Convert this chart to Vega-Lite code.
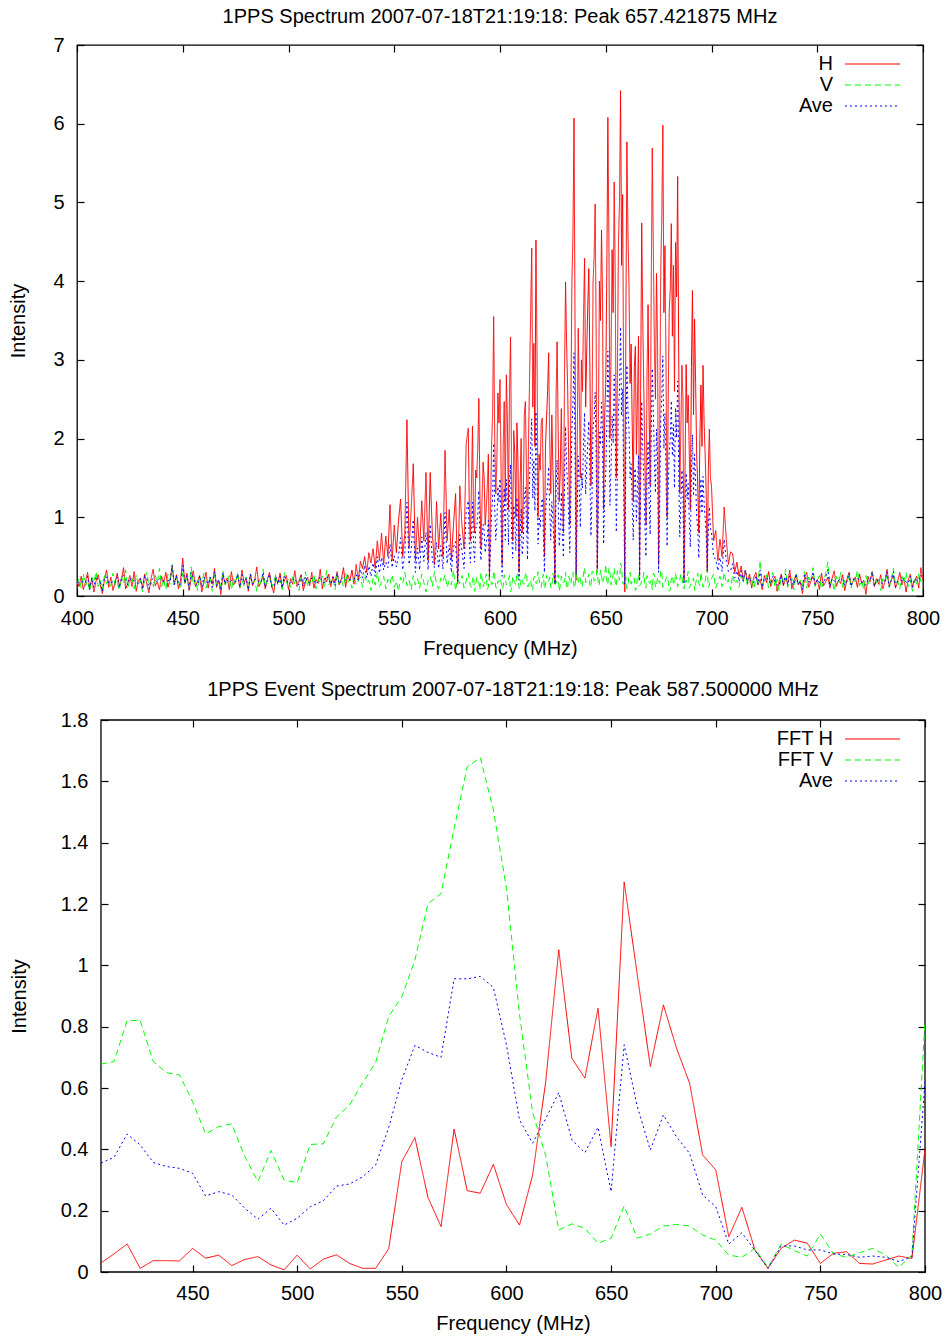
{
"$schema":"https://vega.github.io/schema/vega-lite/v6.json",
"background":"white",
"padding":{"left":8,"top":6,"right":5,"bottom":2},
"config":{
"font":"Liberation Sans",
"view":{"stroke":"black","strokeWidth":1.3},
"axis":{"domain":false,"grid":false,"labelFont":"Liberation Sans","labelFontSize":20,"labelColor":"black","titleFont":"Liberation Sans","titleFontSize":20,"titleFontWeight":"normal","titleColor":"black","tickColor":"black","tickSize":-7,"tickWidth":1.2,"labelFlush":false,"labelOverlap":false},
"legend":{"orient":"none","legendY":8,"title":null,"padding":0,"labelFont":"Liberation Sans","labelFontSize":20,"labelColor":"black","symbolType":"M-2.75,0H2.75","symbolSize":400,"symbolStrokeWidth":1.2,"symbolOffset":90,"labelAlign":"right","labelOffset":-50.5,"rowPadding":-2},
"title":{"font":"Liberation Sans","fontSize":20,"fontWeight":"normal","color":"black","anchor":"middle","frame":"group"}
},
"datasets":{
"spec":[
{"f":400,"H":0.2,"V":0.15,"Ave":0.18},{"f":401,"H":0.12,"V":0.22,"Ave":0.17},{"f":402,"H":0.25,"V":0.1,"Ave":0.18},{"f":403,"H":0.08,"V":0.28,"Ave":0.18},{"f":404,"H":0.18,"V":0.13,"Ave":0.16},{"f":405,"H":0.3,"V":0.19,"Ave":0.25},{"f":406,"H":0.1,"V":0.06,"Ave":0.08},{"f":407,"H":0.22,"V":0.24,"Ave":0.23},{"f":408,"H":0.05,"V":0.17,"Ave":0.11},{"f":409,"H":0.19,"V":0.31,"Ave":0.25},
{"f":410,"H":0.27,"V":0.12,"Ave":0.2},{"f":411,"H":0.14,"V":0.2,"Ave":0.17},{"f":412,"H":0.03,"V":0.08,"Ave":0.06},{"f":413,"H":0.21,"V":0.26,"Ave":0.24},{"f":414,"H":0.33,"V":0.15,"Ave":0.24},{"f":415,"H":0.11,"V":0.21,"Ave":0.16},{"f":416,"H":0.24,"V":0.1,"Ave":0.17},{"f":417,"H":0.07,"V":0.29,"Ave":0.18},{"f":418,"H":0.17,"V":0.14,"Ave":0.16},{"f":419,"H":0.29,"V":0.18,"Ave":0.24},
{"f":420,"H":0.13,"V":0.07,"Ave":0.1},{"f":421,"H":0.2,"V":0.25,"Ave":0.23},{"f":422,"H":0.36,"V":0.16,"Ave":0.26},{"f":423,"H":0.09,"V":0.33,"Ave":0.21},{"f":424,"H":0.16,"V":0.11,"Ave":0.14},{"f":425,"H":0.26,"V":0.19,"Ave":0.23},{"f":426,"H":0.12,"V":0.23,"Ave":0.18},{"f":427,"H":0.31,"V":0.09,"Ave":0.2},{"f":428,"H":0.06,"V":0.27,"Ave":0.17},{"f":429,"H":0.19,"V":0.13,"Ave":0.16},
{"f":430,"H":0.23,"V":0.2,"Ave":0.22},{"f":431,"H":0.1,"V":0.05,"Ave":0.08},{"f":432,"H":0.28,"V":0.22,"Ave":0.25},{"f":433,"H":0.15,"V":0.3,"Ave":0.23},{"f":434,"H":0.04,"V":0.14,"Ave":0.09},{"f":435,"H":0.22,"V":0.18,"Ave":0.2},{"f":436,"H":0.34,"V":0.1,"Ave":0.22},{"f":437,"H":0.13,"V":0.26,"Ave":0.2},{"f":438,"H":0.18,"V":0.17,"Ave":0.18},{"f":439,"H":0.08,"V":0.35,"Ave":0.22},
{"f":440,"H":0.25,"V":0.12,"Ave":0.19},{"f":441,"H":0.17,"V":0.21,"Ave":0.19},{"f":442,"H":0.3,"V":0.08,"Ave":0.19},{"f":443,"H":0.11,"V":0.28,"Ave":0.2},{"f":444,"H":0.21,"V":0.15,"Ave":0.18},{"f":445,"H":0.38,"V":0.4,"Ave":0.39},{"f":446,"H":0.14,"V":0.13,"Ave":0.14},{"f":447,"H":0.27,"V":0.24,"Ave":0.26},{"f":448,"H":0.09,"V":0.19,"Ave":0.14},{"f":449,"H":0.2,"V":0.09,"Ave":0.15},
{"f":450,"H":0.48,"V":0.3,"Ave":0.39},{"f":451,"H":0.16,"V":0.16,"Ave":0.16},{"f":452,"H":0.29,"V":0.22,"Ave":0.26},{"f":453,"H":0.07,"V":0.11,"Ave":0.09},{"f":454,"H":0.22,"V":0.37,"Ave":0.3},{"f":455,"H":0.32,"V":0.14,"Ave":0.23},{"f":456,"H":0.12,"V":0.2,"Ave":0.16},{"f":457,"H":0.19,"V":0.07,"Ave":0.13},{"f":458,"H":0.26,"V":0.25,"Ave":0.26},{"f":459,"H":0.05,"V":0.17,"Ave":0.11},
{"f":460,"H":0.18,"V":0.29,"Ave":0.24},{"f":461,"H":0.3,"V":0.1,"Ave":0.2},{"f":462,"H":0.1,"V":0.19,"Ave":0.15},{"f":463,"H":0.24,"V":0.23,"Ave":0.24},{"f":464,"H":0.15,"V":0.06,"Ave":0.11},{"f":465,"H":0.35,"V":0.27,"Ave":0.31},{"f":466,"H":0.11,"V":0.15,"Ave":0.13},{"f":467,"H":0.2,"V":0.21,"Ave":0.21},{"f":468,"H":0.02,"V":0.12,"Ave":0.07},{"f":469,"H":0.27,"V":0.32,"Ave":0.3},
{"f":470,"H":0.16,"V":0.14,"Ave":0.15},{"f":471,"H":0.23,"V":0.18,"Ave":0.21},{"f":472,"H":0.08,"V":0.26,"Ave":0.17},{"f":473,"H":0.31,"V":0.08,"Ave":0.2},{"f":474,"H":0.14,"V":0.22,"Ave":0.18},{"f":475,"H":0.19,"V":0.16,"Ave":0.18},{"f":476,"H":0.26,"V":0.3,"Ave":0.28},{"f":477,"H":0.1,"V":0.11,"Ave":0.11},{"f":478,"H":0.33,"V":0.2,"Ave":0.27},{"f":479,"H":0.17,"V":0.13,"Ave":0.15},
{"f":480,"H":0.22,"V":0.24,"Ave":0.23},{"f":481,"H":0.06,"V":0.09,"Ave":0.08},{"f":482,"H":0.28,"V":0.28,"Ave":0.28},{"f":483,"H":0.13,"V":0.17,"Ave":0.15},{"f":484,"H":0.2,"V":0.21,"Ave":0.21},{"f":485,"H":0.37,"V":0.06,"Ave":0.22},{"f":486,"H":0.12,"V":0.23,"Ave":0.18},{"f":487,"H":0.18,"V":0.15,"Ave":0.17},{"f":488,"H":0.25,"V":0.34,"Ave":0.3},{"f":489,"H":0.09,"V":0.12,"Ave":0.11},
{"f":490,"H":0.21,"V":0.19,"Ave":0.2},{"f":491,"H":0.3,"V":0.25,"Ave":0.28},{"f":492,"H":0.14,"V":0.1,"Ave":0.12},{"f":493,"H":0.04,"V":0.18,"Ave":0.11},{"f":494,"H":0.23,"V":0.27,"Ave":0.25},{"f":495,"H":0.17,"V":0.13,"Ave":0.15},{"f":496,"H":0.29,"V":0.2,"Ave":0.25},{"f":497,"H":0.11,"V":0.08,"Ave":0.1},{"f":498,"H":0.19,"V":0.3,"Ave":0.25},{"f":499,"H":0.26,"V":0.16,"Ave":0.21},
{"f":500,"H":0.08,"V":0.22,"Ave":0.15},{"f":501,"H":0.22,"V":0.11,"Ave":0.17},{"f":502,"H":0.15,"V":0.26,"Ave":0.21},{"f":503,"H":0.32,"V":0.14,"Ave":0.23},{"f":504,"H":0.12,"V":0.19,"Ave":0.16},{"f":505,"H":0.2,"V":0.07,"Ave":0.14},{"f":506,"H":0.27,"V":0.24,"Ave":0.26},{"f":507,"H":0.07,"V":0.17,"Ave":0.12},{"f":508,"H":0.18,"V":0.31,"Ave":0.25},{"f":509,"H":0.24,"V":0.12,"Ave":0.18},
{"f":510,"H":0.13,"V":0.2,"Ave":0.17},{"f":511,"H":0.3,"V":0.15,"Ave":0.23},{"f":512,"H":0.1,"V":0.28,"Ave":0.19},{"f":513,"H":0.21,"V":0.09,"Ave":0.15},{"f":514,"H":0.16,"V":0.21,"Ave":0.19},{"f":515,"H":0.34,"V":0.16,"Ave":0.25},{"f":516,"H":0.09,"V":0.25,"Ave":0.17},{"f":517,"H":0.23,"V":0.1,"Ave":0.17},{"f":518,"H":0.18,"V":0.33,"Ave":0.26},{"f":519,"H":0.28,"V":0.14,"Ave":0.21},
{"f":520,"H":0.12,"V":0.18,"Ave":0.15},{"f":521,"H":0.25,"V":0.23,"Ave":0.24},{"f":522,"H":0.17,"V":0.08,"Ave":0.13},{"f":523,"H":0.31,"V":0.27,"Ave":0.29},{"f":524,"H":0.14,"V":0.15,"Ave":0.15},{"f":525,"H":0.22,"V":0.2,"Ave":0.21},{"f":526,"H":0.36,"V":0.12,"Ave":0.24},{"f":527,"H":0.11,"V":0.29,"Ave":0.2},{"f":528,"H":0.27,"V":0.17,"Ave":0.22},{"f":529,"H":0.19,"V":0.22,"Ave":0.21},
{"f":530,"H":0.33,"V":0.1,"Ave":0.22},{"f":531,"H":0.15,"V":0.26,"Ave":0.21},{"f":532,"H":0.4,"V":0.14,"Ave":0.27},{"f":533,"H":0.2,"V":0.19,"Ave":0.2},{"f":534,"H":0.44,"V":0.24,"Ave":0.34},{"f":535,"H":0.35,"V":0.11,"Ave":0.23},{"f":536,"H":0.5,"V":0.28,"Ave":0.39},{"f":537,"H":0.3,"V":0.16,"Ave":0.23},{"f":538,"H":0.55,"V":0.2,"Ave":0.38},{"f":539,"H":0.42,"V":0.07,"Ave":0.25},
{"f":540,"H":0.6,"V":0.23,"Ave":0.42},{"f":541,"H":0.35,"V":0.14,"Ave":0.25},{"f":542,"H":0.7,"V":0.3,"Ave":0.5},{"f":543,"H":0.45,"V":0.12,"Ave":0.29},{"f":544,"H":0.8,"V":0.18,"Ave":0.49},{"f":545,"H":0.4,"V":0.25,"Ave":0.33},{"f":546,"H":0.76,"V":0.09,"Ave":0.43},{"f":547,"H":0.5,"V":0.21,"Ave":0.36},{"f":548,"H":1.16,"V":0.15,"Ave":0.66},{"f":549,"H":0.45,"V":0.27,"Ave":0.36},
{"f":550,"H":0.9,"V":0.11,"Ave":0.51},{"f":551,"H":0.55,"V":0.19,"Ave":0.37},{"f":552,"H":0.95,"V":0.06,"Ave":0.51},{"f":553,"H":1.23,"V":0.24,"Ave":0.74},{"f":554,"H":0.5,"V":0.16,"Ave":0.33},{"f":555,"H":0.8,"V":0.3,"Ave":0.55},{"f":556,"H":2.24,"V":0.13,"Ave":1.19},{"f":557,"H":0.6,"V":0.2,"Ave":0.4},{"f":558,"H":1.1,"V":0.08,"Ave":0.59},{"f":559,"H":1.68,"V":0.26,"Ave":0.97},
{"f":560,"H":0.45,"V":0.14,"Ave":0.3},{"f":561,"H":1.0,"V":0.22,"Ave":0.61},{"f":562,"H":0.55,"V":0.1,"Ave":0.33},{"f":563,"H":1.21,"V":0.28,"Ave":0.75},{"f":564,"H":0.7,"V":0.17,"Ave":0.44},{"f":565,"H":1.57,"V":0.05,"Ave":0.81},{"f":566,"H":0.45,"V":0.2,"Ave":0.33},{"f":567,"H":1.57,"V":0.25,"Ave":0.91},{"f":568,"H":0.8,"V":0.12,"Ave":0.46},{"f":569,"H":0.4,"V":0.31,"Ave":0.36},
{"f":570,"H":1.2,"V":0.15,"Ave":0.68},{"f":571,"H":0.6,"V":0.09,"Ave":0.35},{"f":572,"H":1.05,"V":0.23,"Ave":0.64},{"f":573,"H":0.5,"V":0.18,"Ave":0.34},{"f":574,"H":1.85,"V":0.27,"Ave":1.06},{"f":575,"H":0.7,"V":0.11,"Ave":0.41},{"f":576,"H":1.1,"V":0.2,"Ave":0.65},{"f":577,"H":0.45,"V":0.14,"Ave":0.3},{"f":578,"H":0.9,"V":0.33,"Ave":0.62},{"f":579,"H":1.3,"V":0.07,"Ave":0.69},
{"f":580,"H":0.15,"V":0.22,"Ave":0.19},{"f":581,"H":1.4,"V":0.16,"Ave":0.78},{"f":582,"H":0.9,"V":0.26,"Ave":0.58},{"f":583,"H":0.6,"V":0.1,"Ave":0.35},{"f":584,"H":1.93,"V":0.19,"Ave":1.06},{"f":585,"H":2.13,"V":0.29,"Ave":1.21},{"f":586,"H":0.7,"V":0.13,"Ave":0.42},{"f":587,"H":2.16,"V":0.21,"Ave":1.19},{"f":588,"H":0.8,"V":0.06,"Ave":0.43},{"f":589,"H":1.5,"V":0.24,"Ave":0.87},
{"f":590,"H":2.51,"V":0.17,"Ave":1.34},{"f":591,"H":0.6,"V":0.3,"Ave":0.45},{"f":592,"H":1.7,"V":0.12,"Ave":0.91},{"f":593,"H":0.9,"V":0.2,"Ave":0.55},{"f":594,"H":1.4,"V":0.08,"Ave":0.74},{"f":595,"H":0.2,"V":0.26,"Ave":0.23},{"f":596,"H":1.9,"V":0.15,"Ave":1.03},{"f":597,"H":3.55,"V":0.32,"Ave":1.94},{"f":598,"H":1.3,"V":0.11,"Ave":0.71},{"f":599,"H":2.58,"V":0.19,"Ave":1.39},
{"f":600,"H":2.75,"V":0.23,"Ave":1.49},{"f":601,"H":0.4,"V":0.09,"Ave":0.25},{"f":602,"H":2.47,"V":0.27,"Ave":1.37},{"f":603,"H":2.81,"V":0.14,"Ave":1.48},{"f":604,"H":1.1,"V":0.2,"Ave":0.65},{"f":605,"H":3.29,"V":0.05,"Ave":1.67},{"f":606,"H":0.7,"V":0.25,"Ave":0.48},{"f":607,"H":1.8,"V":0.17,"Ave":0.99},{"f":608,"H":2.2,"V":0.3,"Ave":1.25},{"f":609,"H":0.3,"V":0.1,"Ave":0.2},
{"f":610,"H":2.0,"V":0.22,"Ave":1.11},{"f":611,"H":1.2,"V":0.15,"Ave":0.68},{"f":612,"H":2.47,"V":0.28,"Ave":1.38},{"f":613,"H":0.8,"V":0.12,"Ave":0.46},{"f":614,"H":2.79,"V":0.19,"Ave":1.49},{"f":615,"H":4.42,"V":0.07,"Ave":2.25},{"f":616,"H":3.21,"V":0.24,"Ave":1.73},{"f":617,"H":4.52,"V":0.16,"Ave":2.34},{"f":618,"H":1.0,"V":0.31,"Ave":0.66},{"f":619,"H":1.6,"V":0.13,"Ave":0.87},
{"f":620,"H":2.26,"V":0.21,"Ave":1.24},{"f":621,"H":0.5,"V":0.09,"Ave":0.3},{"f":622,"H":2.25,"V":0.26,"Ave":1.26},{"f":623,"H":3.09,"V":0.18,"Ave":1.64},{"f":624,"H":1.3,"V":0.11,"Ave":0.71},{"f":625,"H":1.64,"V":0.29,"Ave":0.97},{"f":626,"H":0.15,"V":0.15,"Ave":0.15},{"f":627,"H":3.23,"V":0.22,"Ave":1.73},{"f":628,"H":1.2,"V":0.06,"Ave":0.63},{"f":629,"H":2.38,"V":0.25,"Ave":1.32},
{"f":630,"H":0.8,"V":0.17,"Ave":0.49},{"f":631,"H":3.99,"V":0.3,"Ave":2.15},{"f":632,"H":2.62,"V":0.12,"Ave":1.37},{"f":633,"H":0.9,"V":0.2,"Ave":0.55},{"f":634,"H":3.99,"V":0.27,"Ave":2.13},{"f":635,"H":6.07,"V":0.1,"Ave":3.09},{"f":636,"H":0.2,"V":0.33,"Ave":0.27},{"f":637,"H":3.4,"V":0.16,"Ave":1.78},{"f":638,"H":1.5,"V":0.23,"Ave":0.87},{"f":639,"H":2.6,"V":0.13,"Ave":1.37},
{"f":640,"H":4.29,"V":0.36,"Ave":2.33},{"f":641,"H":3.1,"V":0.19,"Ave":1.65},{"f":642,"H":4.16,"V":0.28,"Ave":2.22},{"f":643,"H":1.4,"V":0.11,"Ave":0.76},{"f":644,"H":3.99,"V":0.31,"Ave":2.15},{"f":645,"H":4.98,"V":0.2,"Ave":2.59},{"f":646,"H":0.3,"V":0.38,"Ave":0.34},{"f":647,"H":4.0,"V":0.15,"Ave":2.08},{"f":648,"H":4.65,"V":0.26,"Ave":2.46},{"f":649,"H":1.1,"V":0.22,"Ave":0.66},
{"f":650,"H":2.7,"V":0.4,"Ave":1.55},{"f":651,"H":6.08,"V":0.14,"Ave":3.11},{"f":652,"H":2.0,"V":0.3,"Ave":1.15},{"f":653,"H":4.4,"V":0.18,"Ave":2.29},{"f":654,"H":5.26,"V":0.35,"Ave":2.81},{"f":655,"H":1.5,"V":0.12,"Ave":0.81},{"f":656,"H":4.49,"V":0.27,"Ave":2.38},{"f":657,"H":6.42,"V":0.42,"Ave":3.42},{"f":658,"H":5.1,"V":0.16,"Ave":2.63},{"f":659,"H":0.05,"V":0.24,"Ave":0.15},
{"f":660,"H":5.77,"V":0.09,"Ave":2.93},{"f":661,"H":3.93,"V":0.28,"Ave":2.11},{"f":662,"H":3.2,"V":0.15,"Ave":1.68},{"f":663,"H":1.2,"V":0.21,"Ave":0.71},{"f":664,"H":3.17,"V":0.07,"Ave":1.62},{"f":665,"H":2.52,"V":0.26,"Ave":1.39},{"f":666,"H":0.25,"V":0.13,"Ave":0.19},{"f":667,"H":4.74,"V":0.19,"Ave":2.47},{"f":668,"H":2.62,"V":0.3,"Ave":1.46},{"f":669,"H":0.9,"V":0.1,"Ave":0.5},
{"f":670,"H":3.7,"V":0.23,"Ave":1.97},{"f":671,"H":1.4,"V":0.16,"Ave":0.78},{"f":672,"H":5.69,"V":0.08,"Ave":2.89},{"f":673,"H":3.17,"V":0.27,"Ave":1.72},{"f":674,"H":4.1,"V":0.14,"Ave":2.12},{"f":675,"H":0.4,"V":0.2,"Ave":0.3},{"f":676,"H":4.14,"V":0.33,"Ave":2.24},{"f":677,"H":5.98,"V":0.11,"Ave":3.05},{"f":678,"H":4.45,"V":0.18,"Ave":2.32},{"f":679,"H":1.0,"V":0.25,"Ave":0.63},
{"f":680,"H":3.6,"V":0.06,"Ave":1.83},{"f":681,"H":4.73,"V":0.22,"Ave":2.48},{"f":682,"H":4.2,"V":0.15,"Ave":2.18},{"f":683,"H":4.49,"V":0.29,"Ave":2.39},{"f":684,"H":5.33,"V":0.12,"Ave":2.73},{"f":685,"H":1.3,"V":0.2,"Ave":0.75},{"f":686,"H":2.93,"V":0.26,"Ave":1.6},{"f":687,"H":0.2,"V":0.09,"Ave":0.15},{"f":688,"H":2.94,"V":0.17,"Ave":1.56},{"f":689,"H":2.55,"V":0.31,"Ave":1.43},
{"f":690,"H":1.1,"V":0.13,"Ave":0.62},{"f":691,"H":3.88,"V":0.21,"Ave":2.05},{"f":692,"H":3.52,"V":0.07,"Ave":1.8},{"f":693,"H":1.78,"V":0.24,"Ave":1.01},{"f":694,"H":0.8,"V":0.16,"Ave":0.48},{"f":695,"H":2.68,"V":0.3,"Ave":1.49},{"f":696,"H":2.93,"V":0.11,"Ave":1.52},{"f":697,"H":1.79,"V":0.19,"Ave":0.99},{"f":698,"H":0.3,"V":0.34,"Ave":0.32},{"f":699,"H":2.12,"V":0.14,"Ave":1.13},
{"f":700,"H":1.4,"V":0.22,"Ave":0.81},{"f":701,"H":0.7,"V":0.28,"Ave":0.49},{"f":702,"H":0.83,"V":0.1,"Ave":0.47},{"f":703,"H":0.45,"V":0.18,"Ave":0.32},{"f":704,"H":0.72,"V":0.25,"Ave":0.49},{"f":705,"H":0.5,"V":0.12,"Ave":0.31},{"f":706,"H":1.13,"V":0.3,"Ave":0.72},{"f":707,"H":0.72,"V":0.16,"Ave":0.44},{"f":708,"H":0.4,"V":0.21,"Ave":0.31},{"f":709,"H":0.56,"V":0.08,"Ave":0.32},
{"f":710,"H":0.54,"V":0.27,"Ave":0.41},{"f":711,"H":0.3,"V":0.15,"Ave":0.23},{"f":712,"H":0.43,"V":0.2,"Ave":0.32},{"f":713,"H":0.25,"V":0.11,"Ave":0.18},{"f":714,"H":0.38,"V":0.26,"Ave":0.32},{"f":715,"H":0.2,"V":0.17,"Ave":0.19},{"f":716,"H":0.33,"V":0.32,"Ave":0.33},{"f":717,"H":0.18,"V":0.13,"Ave":0.16},{"f":718,"H":0.28,"V":0.19,"Ave":0.24},{"f":719,"H":0.1,"V":0.24,"Ave":0.17},
{"f":720,"H":0.24,"V":0.09,"Ave":0.17},{"f":721,"H":0.3,"V":0.22,"Ave":0.26},{"f":722,"H":0.14,"V":0.16,"Ave":0.15},{"f":723,"H":0.21,"V":0.45,"Ave":0.33},{"f":724,"H":0.08,"V":0.14,"Ave":0.11},{"f":725,"H":0.26,"V":0.2,"Ave":0.23},{"f":726,"H":0.17,"V":0.27,"Ave":0.22},{"f":727,"H":0.31,"V":0.1,"Ave":0.21},{"f":728,"H":0.12,"V":0.18,"Ave":0.15},{"f":729,"H":0.2,"V":0.3,"Ave":0.25},
{"f":730,"H":0.25,"V":0.12,"Ave":0.19},{"f":731,"H":0.06,"V":0.21,"Ave":0.14},{"f":732,"H":0.19,"V":0.07,"Ave":0.13},{"f":733,"H":0.28,"V":0.26,"Ave":0.27},{"f":734,"H":0.13,"V":0.15,"Ave":0.14},{"f":735,"H":0.22,"V":0.34,"Ave":0.28},{"f":736,"H":0.16,"V":0.11,"Ave":0.14},{"f":737,"H":0.33,"V":0.19,"Ave":0.26},{"f":738,"H":0.09,"V":0.23,"Ave":0.16},{"f":739,"H":0.2,"V":0.08,"Ave":0.14},
{"f":740,"H":0.27,"V":0.28,"Ave":0.28},{"f":741,"H":0.14,"V":0.16,"Ave":0.15},{"f":742,"H":0.18,"V":0.2,"Ave":0.19},{"f":743,"H":0.03,"V":0.13,"Ave":0.08},{"f":744,"H":0.23,"V":0.31,"Ave":0.27},{"f":745,"H":0.3,"V":0.1,"Ave":0.2},{"f":746,"H":0.11,"V":0.24,"Ave":0.18},{"f":747,"H":0.19,"V":0.17,"Ave":0.18},{"f":748,"H":0.25,"V":0.36,"Ave":0.31},{"f":749,"H":0.15,"V":0.12,"Ave":0.14},
{"f":750,"H":0.21,"V":0.2,"Ave":0.21},{"f":751,"H":0.08,"V":0.26,"Ave":0.17},{"f":752,"H":0.29,"V":0.09,"Ave":0.19},{"f":753,"H":0.13,"V":0.18,"Ave":0.16},{"f":754,"H":0.18,"V":0.29,"Ave":0.24},{"f":755,"H":0.24,"V":0.43,"Ave":0.34},{"f":756,"H":0.1,"V":0.14,"Ave":0.12},{"f":757,"H":0.22,"V":0.22,"Ave":0.22},{"f":758,"H":0.32,"V":0.06,"Ave":0.19},{"f":759,"H":0.12,"V":0.25,"Ave":0.19},
{"f":760,"H":0.2,"V":0.17,"Ave":0.19},{"f":761,"H":0.16,"V":0.3,"Ave":0.23},{"f":762,"H":0.27,"V":0.11,"Ave":0.19},{"f":763,"H":0.07,"V":0.2,"Ave":0.14},{"f":764,"H":0.21,"V":0.15,"Ave":0.18},{"f":765,"H":0.3,"V":0.27,"Ave":0.29},{"f":766,"H":0.14,"V":0.1,"Ave":0.12},{"f":767,"H":0.19,"V":0.23,"Ave":0.21},{"f":768,"H":0.24,"V":0.18,"Ave":0.21},{"f":769,"H":0.11,"V":0.33,"Ave":0.22},
{"f":770,"H":0.28,"V":0.13,"Ave":0.21},{"f":771,"H":0.16,"V":0.19,"Ave":0.18},{"f":772,"H":0.2,"V":0.08,"Ave":0.14},{"f":773,"H":0.02,"V":0.26,"Ave":0.14},{"f":774,"H":0.25,"V":0.15,"Ave":0.2},{"f":775,"H":0.18,"V":0.21,"Ave":0.2},{"f":776,"H":0.31,"V":0.3,"Ave":0.31},{"f":777,"H":0.12,"V":0.12,"Ave":0.12},{"f":778,"H":0.22,"V":0.18,"Ave":0.2},{"f":779,"H":0.15,"V":0.24,"Ave":0.2},
{"f":780,"H":0.27,"V":0.07,"Ave":0.17},{"f":781,"H":0.09,"V":0.22,"Ave":0.16},{"f":782,"H":0.19,"V":0.16,"Ave":0.18},{"f":783,"H":0.34,"V":0.28,"Ave":0.31},{"f":784,"H":0.13,"V":0.11,"Ave":0.12},{"f":785,"H":0.2,"V":0.2,"Ave":0.2},{"f":786,"H":0.26,"V":0.35,"Ave":0.31},{"f":787,"H":0.1,"V":0.14,"Ave":0.12},{"f":788,"H":0.18,"V":0.19,"Ave":0.19},{"f":789,"H":0.3,"V":0.09,"Ave":0.2},
{"f":790,"H":0.14,"V":0.25,"Ave":0.2},{"f":791,"H":0.23,"V":0.17,"Ave":0.2},{"f":792,"H":0.05,"V":0.3,"Ave":0.18},{"f":793,"H":0.2,"V":0.12,"Ave":0.16},{"f":794,"H":0.28,"V":0.21,"Ave":0.25},{"f":795,"H":0.12,"V":0.06,"Ave":0.09},{"f":796,"H":0.19,"V":0.24,"Ave":0.22},{"f":797,"H":0.25,"V":0.15,"Ave":0.2},{"f":798,"H":0.1,"V":0.29,"Ave":0.2},{"f":799,"H":0.36,"V":0.18,"Ave":0.27},
{"f":800,"H":0.2,"V":0.22,"Ave":0.21},
{"f":585.5,"H":1.1,"V":0.2,"Ave":0.65},{"f":586.5,"H":1.4,"V":0.11,"Ave":0.76},{"f":587.5,"H":1.0,"V":0.25,"Ave":0.63},{"f":588.5,"H":1.6,"V":0.14,"Ave":0.87},{"f":589.5,"H":1.9,"V":0.19,"Ave":1.05},{"f":590.5,"H":1.3,"V":0.08,"Ave":0.69},{"f":591.5,"H":1.2,"V":0.23,"Ave":0.72},{"f":592.5,"H":1.5,"V":0.16,"Ave":0.83},{"f":593.5,"H":1.1,"V":0.28,"Ave":0.69},{"f":594.5,"H":1.8,"V":0.12,"Ave":0.96},
{"f":595.5,"H":1.0,"V":0.2,"Ave":0.6},{"f":596.5,"H":2.3,"V":0.15,"Ave":1.23},{"f":597.5,"H":2.0,"V":0.26,"Ave":1.13},{"f":598.5,"H":1.7,"V":0.1,"Ave":0.9},{"f":599.5,"H":2.2,"V":0.18,"Ave":1.19},
{"f":600.5,"H":1.6,"V":0.18,"Ave":0.89},{"f":601.5,"H":1.9,"V":0.12,"Ave":1.01},{"f":602.5,"H":1.2,"V":0.22,"Ave":0.71},{"f":603.5,"H":2.2,"V":0.15,"Ave":1.18},{"f":604.5,"H":2.6,"V":0.26,"Ave":1.43},{"f":605.5,"H":1.5,"V":0.1,"Ave":0.8},{"f":606.5,"H":2.1,"V":0.2,"Ave":1.15},{"f":607.5,"H":1.0,"V":0.14,"Ave":0.57},{"f":608.5,"H":1.7,"V":0.27,"Ave":0.99},{"f":609.5,"H":1.4,"V":0.09,"Ave":0.75},
{"f":610.5,"H":0.8,"V":0.23,"Ave":0.52},{"f":611.5,"H":2.3,"V":0.16,"Ave":1.23},{"f":612.5,"H":1.6,"V":0.3,"Ave":0.95},{"f":613.5,"H":2.0,"V":0.12,"Ave":1.06},{"f":614.5,"H":3.6,"V":0.2,"Ave":1.9},{"f":615.5,"H":2.4,"V":0.08,"Ave":1.24},{"f":616.5,"H":1.9,"V":0.25,"Ave":1.08},{"f":617.5,"H":3.1,"V":0.17,"Ave":1.64},{"f":618.5,"H":1.8,"V":0.21,"Ave":1.01},{"f":619.5,"H":2.2,"V":0.11,"Ave":1.16},
{"f":620.5,"H":1.3,"V":0.28,"Ave":0.79},{"f":621.5,"H":1.9,"V":0.14,"Ave":1.02},{"f":622.5,"H":2.6,"V":0.19,"Ave":1.4},{"f":623.5,"H":2.0,"V":0.24,"Ave":1.12},{"f":624.5,"H":2.3,"V":0.1,"Ave":1.2},{"f":625.5,"H":1.1,"V":0.2,"Ave":0.65},{"f":626.5,"H":2.5,"V":0.16,"Ave":1.33},{"f":627.5,"H":2.1,"V":0.27,"Ave":1.19},{"f":628.5,"H":1.6,"V":0.13,"Ave":0.87},{"f":629.5,"H":1.3,"V":0.22,"Ave":0.77},
{"f":630.5,"H":2.8,"V":0.18,"Ave":1.49},{"f":631.5,"H":3.2,"V":0.09,"Ave":1.65},{"f":632.5,"H":1.7,"V":0.25,"Ave":0.98},{"f":633.5,"H":2.4,"V":0.15,"Ave":1.28},{"f":634.5,"H":4.6,"V":0.3,"Ave":2.45},{"f":635.5,"H":3.3,"V":0.12,"Ave":1.71},{"f":636.5,"H":1.9,"V":0.2,"Ave":1.05},{"f":637.5,"H":2.5,"V":0.26,"Ave":1.38},{"f":638.5,"H":3.0,"V":0.11,"Ave":1.56},{"f":639.5,"H":3.6,"V":0.29,"Ave":1.95},
{"f":640.5,"H":2.4,"V":0.17,"Ave":1.29},{"f":641.5,"H":3.7,"V":0.22,"Ave":1.96},{"f":642.5,"H":2.9,"V":0.14,"Ave":1.52},{"f":643.5,"H":2.2,"V":0.31,"Ave":1.26},{"f":644.5,"H":4.3,"V":0.19,"Ave":2.25},{"f":645.5,"H":3.2,"V":0.24,"Ave":1.72},{"f":646.5,"H":2.0,"V":0.13,"Ave":1.07},{"f":647.5,"H":3.5,"V":0.33,"Ave":1.92},{"f":648.5,"H":3.8,"V":0.16,"Ave":1.98},{"f":649.5,"H":2.3,"V":0.27,"Ave":1.29},
{"f":650.5,"H":4.1,"V":0.2,"Ave":2.15},{"f":651.5,"H":4.5,"V":0.36,"Ave":2.43},{"f":652.5,"H":3.1,"V":0.14,"Ave":1.62},{"f":653.5,"H":3.6,"V":0.28,"Ave":1.94},{"f":654.5,"H":4.0,"V":0.18,"Ave":2.09},{"f":655.5,"H":2.8,"V":0.32,"Ave":1.56},{"f":656.5,"H":5.0,"V":0.2,"Ave":2.6},{"f":657.5,"H":4.2,"V":0.37,"Ave":2.29},{"f":658.5,"H":2.4,"V":0.15,"Ave":1.28},{"f":659.5,"H":3.4,"V":0.25,"Ave":1.83},
{"f":660.5,"H":4.6,"V":0.12,"Ave":2.36},{"f":661.5,"H":2.7,"V":0.3,"Ave":1.5},{"f":662.5,"H":2.2,"V":0.18,"Ave":1.19},{"f":663.5,"H":2.9,"V":0.23,"Ave":1.57},{"f":664.5,"H":1.8,"V":0.1,"Ave":0.95},{"f":665.5,"H":3.3,"V":0.27,"Ave":1.79},{"f":666.5,"H":2.6,"V":0.15,"Ave":1.38},{"f":667.5,"H":3.5,"V":0.21,"Ave":1.86},{"f":668.5,"H":1.7,"V":0.12,"Ave":0.91},{"f":669.5,"H":2.8,"V":0.26,"Ave":1.53},
{"f":670.5,"H":2.3,"V":0.17,"Ave":1.24},{"f":671.5,"H":3.9,"V":0.2,"Ave":2.05},{"f":672.5,"H":4.4,"V":0.29,"Ave":2.35},{"f":673.5,"H":2.5,"V":0.11,"Ave":1.31},{"f":674.5,"H":3.2,"V":0.24,"Ave":1.72},{"f":675.5,"H":2.0,"V":0.16,"Ave":1.08},{"f":676.5,"H":4.8,"V":0.3,"Ave":2.55},{"f":677.5,"H":3.6,"V":0.13,"Ave":1.87},{"f":678.5,"H":2.9,"V":0.22,"Ave":1.56},{"f":679.5,"H":2.4,"V":0.19,"Ave":1.3},
{"f":680.5,"H":3.9,"V":0.08,"Ave":1.99},{"f":681.5,"H":3.3,"V":0.26,"Ave":1.78},{"f":682.5,"H":2.6,"V":0.14,"Ave":1.37},{"f":683.5,"H":3.8,"V":0.21,"Ave":2.01},{"f":684.5,"H":3.0,"V":0.17,"Ave":1.59},{"f":685.5,"H":2.1,"V":0.28,"Ave":1.19},{"f":686.5,"H":2.5,"V":0.12,"Ave":1.31},{"f":687.5,"H":1.6,"V":0.2,"Ave":0.9},{"f":688.5,"H":2.2,"V":0.25,"Ave":1.23},{"f":689.5,"H":1.8,"V":0.1,"Ave":0.95},
{"f":690.5,"H":2.9,"V":0.18,"Ave":1.54},{"f":691.5,"H":2.3,"V":0.23,"Ave":1.27},{"f":692.5,"H":2.7,"V":0.15,"Ave":1.43},{"f":693.5,"H":1.4,"V":0.29,"Ave":0.85},{"f":694.5,"H":2.0,"V":0.13,"Ave":1.07},{"f":695.5,"H":1.9,"V":0.2,"Ave":1.05},{"f":696.5,"H":2.2,"V":0.16,"Ave":1.18},{"f":697.5,"H":1.3,"V":0.27,"Ave":0.79},{"f":698.5,"H":1.6,"V":0.11,"Ave":0.86},{"f":699.5,"H":1.5,"V":0.22,"Ave":0.86}
],
"event":[
{"f":406.25,"H":0.03,"V":0.678,"Ave":0.355},{"f":412.5,"H":0.059,"V":0.686,"Ave":0.374},{"f":418.75,"H":0.091,"V":0.82,"Ave":0.45},{"f":425,"H":0.012,"V":0.82,"Ave":0.414},{"f":431.25,"H":0.037,"V":0.686,"Ave":0.357},{"f":437.5,"H":0.037,"V":0.65,"Ave":0.344},{"f":443.75,"H":0.036,"V":0.643,"Ave":0.338},{"f":450,"H":0.077,"V":0.556,"Ave":0.322},
{"f":456.25,"H":0.045,"V":0.45,"Ave":0.248},{"f":462.5,"H":0.055,"V":0.474,"Ave":0.262},{"f":468.75,"H":0.021,"V":0.483,"Ave":0.251},{"f":475,"H":0.041,"V":0.376,"Ave":0.208},{"f":481.25,"H":0.05,"V":0.295,"Ave":0.172},{"f":487.5,"H":0.023,"V":0.396,"Ave":0.208},{"f":493.75,"H":0.007,"V":0.3,"Ave":0.153},{"f":500,"H":0.055,"V":0.291,"Ave":0.175},
{"f":506.25,"H":0.01,"V":0.416,"Ave":0.213},{"f":512.5,"H":0.042,"V":0.418,"Ave":0.232},{"f":518.75,"H":0.056,"V":0.505,"Ave":0.28},{"f":525,"H":0.028,"V":0.544,"Ave":0.287},{"f":531.25,"H":0.012,"V":0.616,"Ave":0.31},{"f":537.5,"H":0.012,"V":0.683,"Ave":0.349},{"f":543.75,"H":0.076,"V":0.833,"Ave":0.471},{"f":550,"H":0.36,"V":0.897,"Ave":0.627},
{"f":556.25,"H":0.438,"V":1.017,"Ave":0.739},{"f":562.5,"H":0.243,"V":1.201,"Ave":0.716},{"f":568.75,"H":0.148,"V":1.234,"Ave":0.7},{"f":575,"H":0.466,"V":1.446,"Ave":0.956},{"f":581.25,"H":0.265,"V":1.647,"Ave":0.956},{"f":587.5,"H":0.257,"V":1.677,"Ave":0.964},{"f":593.75,"H":0.351,"V":1.507,"Ave":0.928},{"f":600,"H":0.22,"V":1.251,"Ave":0.741},
{"f":606.25,"H":0.153,"V":0.84,"Ave":0.496},{"f":612.5,"H":0.316,"V":0.52,"Ave":0.42},{"f":618.75,"H":0.62,"V":0.38,"Ave":0.5},{"f":625,"H":1.051,"V":0.137,"Ave":0.585},{"f":631.25,"H":0.697,"V":0.157,"Ave":0.431},{"f":637.5,"H":0.632,"V":0.142,"Ave":0.389},{"f":643.75,"H":0.86,"V":0.094,"Ave":0.472},{"f":650,"H":0.409,"V":0.11,"Ave":0.262},
{"f":656.25,"H":1.272,"V":0.215,"Ave":0.741},{"f":662.5,"H":0.97,"V":0.11,"Ave":0.54},{"f":668.75,"H":0.67,"V":0.124,"Ave":0.398},{"f":675,"H":0.871,"V":0.15,"Ave":0.512},{"f":681.25,"H":0.73,"V":0.155,"Ave":0.441},{"f":687.5,"H":0.616,"V":0.15,"Ave":0.387},{"f":693.75,"H":0.382,"V":0.121,"Ave":0.251},{"f":700,"H":0.333,"V":0.104,"Ave":0.213},
{"f":706.25,"H":0.115,"V":0.055,"Ave":0.091},{"f":712.5,"H":0.211,"V":0.048,"Ave":0.128},{"f":718.75,"H":0.072,"V":0.077,"Ave":0.07},{"f":725,"H":0.012,"V":0.015,"Ave":0.012},{"f":731.25,"H":0.077,"V":0.091,"Ave":0.085},{"f":737.5,"H":0.104,"V":0.07,"Ave":0.085},{"f":743.75,"H":0.094,"V":0.052,"Ave":0.072},{"f":750,"H":0.028,"V":0.124,"Ave":0.072},
{"f":756.25,"H":0.061,"V":0.059,"Ave":0.059},{"f":762.5,"H":0.066,"V":0.048,"Ave":0.057},{"f":768.75,"H":0.028,"V":0.063,"Ave":0.048},{"f":775,"H":0.026,"V":0.077,"Ave":0.052},{"f":781.25,"H":0.039,"V":0.055,"Ave":0.048},{"f":787.5,"H":0.052,"V":0.015,"Ave":0.034},{"f":793.75,"H":0.044,"V":0.055,"Ave":0.05},{"f":800,"H":0.4,"V":0.82,"Ave":0.62}
]
},
"vconcat":[
{
"width":846,"height":551,
"title":{"text":"1PPS Spectrum 2007-07-18T21:19:18: Peak 657.421875 MHz","offset":8},
"data":{"name":"spec"},
"transform":[{"fold":["H","V","Ave"],"as":["series","value"]}],
"encoding":{
"color":{"field":"series","type":"nominal","scale":{"domain":["H","V","Ave"],"range":["#ff0000","#00ff00","#0000ff"]},"legend":{"legendX":694.5}},
"strokeDash":{"field":"series","type":"nominal","scale":{"domain":["H","V","Ave"],"range":[[1,0],[6,4],[2,3]]},"legend":{"legendX":694.5}}
},
"layer":[
{"transform":[{"filter":"datum.series === 'H'"}],"mark":{"type":"line","strokeWidth":1,"clip":true},
"encoding":{
"x":{"field":"f","type":"quantitative","scale":{"domain":[400,800],"nice":false,"zero":false},"axis":{"values":[400,450,500,550,600,650,700,750,800],"title":"Frequency (MHz)","labelPadding":19,"titlePadding":10}},
"y":{"field":"value","type":"quantitative","scale":{"domain":[0,7],"nice":false,"zero":true},"axis":{"values":[0,1,2,3,4,5,6,7],"title":"Intensity","labelPadding":20,"titlePadding":24}}}},
{"transform":[{"filter":"datum.series === 'V'"}],"mark":{"type":"line","strokeWidth":1,"clip":true},
"encoding":{
"x":{"field":"f","type":"quantitative","axis":null},
"y":{"field":"value","type":"quantitative","axis":null}}},
{"transform":[{"filter":"datum.series === 'Ave'"}],"mark":{"type":"line","strokeWidth":1,"clip":true},
"encoding":{
"x":{"field":"f","type":"quantitative","axis":{"orient":"top","values":[400,450,500,550,600,650,700,750,800],"labels":false,"title":null}},
"y":{"field":"value","type":"quantitative","axis":{"orient":"right","values":[0,1,2,3,4,5,6,7],"labels":false,"title":null}}}}
],
"resolve":{"axis":{"x":"independent","y":"independent"}}
},
{
"width":848,"height":552,
"view":{"stroke":null},
"title":{"text":"1PPS Event Spectrum 2007-07-18T21:19:18:  Peak 587.500000 MHz","offset":10,"dx":12},
"data":{"name":"event"},
"transform":[{"fold":["H","V","Ave"],"as":["series","value"]}],
"layer":[
{"transform":[{"aggregate":[{"op":"min","field":"f","as":"f0"},{"op":"max","field":"f","as":"f1"}]}],
"mark":{"type":"rect","fill":"transparent","stroke":"black","strokeWidth":1.3},
"encoding":{
"x":{"field":"f0","type":"quantitative","axis":null},"x2":{"field":"f1"},
"y":{"datum":0,"type":"quantitative","axis":null},"y2":{"datum":1.8}}},
{"transform":[{"filter":"datum.series === 'H'"}],"mark":{"type":"line","strokeWidth":1,"clip":true},
"encoding":{
"x":{"field":"f","type":"quantitative","scale":{"domain":[394.79,800],"nice":false,"zero":false},"axis":{"values":[450,500,550,600,650,700,750,800],"title":"Frequency (MHz)","labelPadding":18,"titlePadding":10,"titleX":436}},
"y":{"field":"value","type":"quantitative","scale":{"domain":[0,1.8],"nice":false,"zero":true},"axis":{"values":[0,0.2,0.4,0.6,0.8,1,1.2,1.4,1.6,1.8],"format":"~g","title":"Intensity","labelPadding":20,"titlePadding":31,"offset":-24}},
"color":{"field":"series","type":"nominal","scale":{"domain":["H","V","Ave"],"range":["#ff0000","#00ff00","#0000ff"]},"legend":{"legendX":694.5,"labelExpr":"datum.label === 'Ave' ? 'Ave' : 'FFT ' + datum.label"}},
"strokeDash":{"field":"series","type":"nominal","scale":{"domain":["H","V","Ave"],"range":[[1,0],[6,4],[2,3]]},"legend":{"legendX":694.5,"labelExpr":"datum.label === 'Ave' ? 'Ave' : 'FFT ' + datum.label"}}}},
{"transform":[{"filter":"datum.series === 'V'"}],"mark":{"type":"line","strokeWidth":1,"clip":true},
"encoding":{
"x":{"field":"f","type":"quantitative","axis":null},
"y":{"field":"value","type":"quantitative","axis":null},
"color":{"field":"series","type":"nominal","scale":{"domain":["H","V","Ave"],"range":["#ff0000","#00ff00","#0000ff"]},"legend":{"legendX":694.5,"labelExpr":"datum.label === 'Ave' ? 'Ave' : 'FFT ' + datum.label"}},
"strokeDash":{"field":"series","type":"nominal","scale":{"domain":["H","V","Ave"],"range":[[1,0],[6,4],[2,3]]},"legend":{"legendX":694.5,"labelExpr":"datum.label === 'Ave' ? 'Ave' : 'FFT ' + datum.label"}}}},
{"transform":[{"filter":"datum.series === 'Ave'"}],"mark":{"type":"line","strokeWidth":1,"clip":true},
"encoding":{
"x":{"field":"f","type":"quantitative","axis":{"orient":"top","values":[450,500,550,600,650,700,750,800],"labels":false,"title":null}},
"y":{"field":"value","type":"quantitative","axis":{"orient":"right","values":[0,0.2,0.4,0.6,0.8,1,1.2,1.4,1.6,1.8],"labels":false,"title":null}},
"color":{"field":"series","type":"nominal","scale":{"domain":["H","V","Ave"],"range":["#ff0000","#00ff00","#0000ff"]},"legend":{"legendX":694.5,"labelExpr":"datum.label === 'Ave' ? 'Ave' : 'FFT ' + datum.label"}},
"strokeDash":{"field":"series","type":"nominal","scale":{"domain":["H","V","Ave"],"range":[[1,0],[6,4],[2,3]]},"legend":{"legendX":694.5,"labelExpr":"datum.label === 'Ave' ? 'Ave' : 'FFT ' + datum.label"}}}}
],
"resolve":{"axis":{"x":"independent","y":"independent"}}
}
],
"spacing":21,
"resolve":{"scale":{"x":"independent","y":"independent","color":"independent","strokeDash":"independent"}}
}
